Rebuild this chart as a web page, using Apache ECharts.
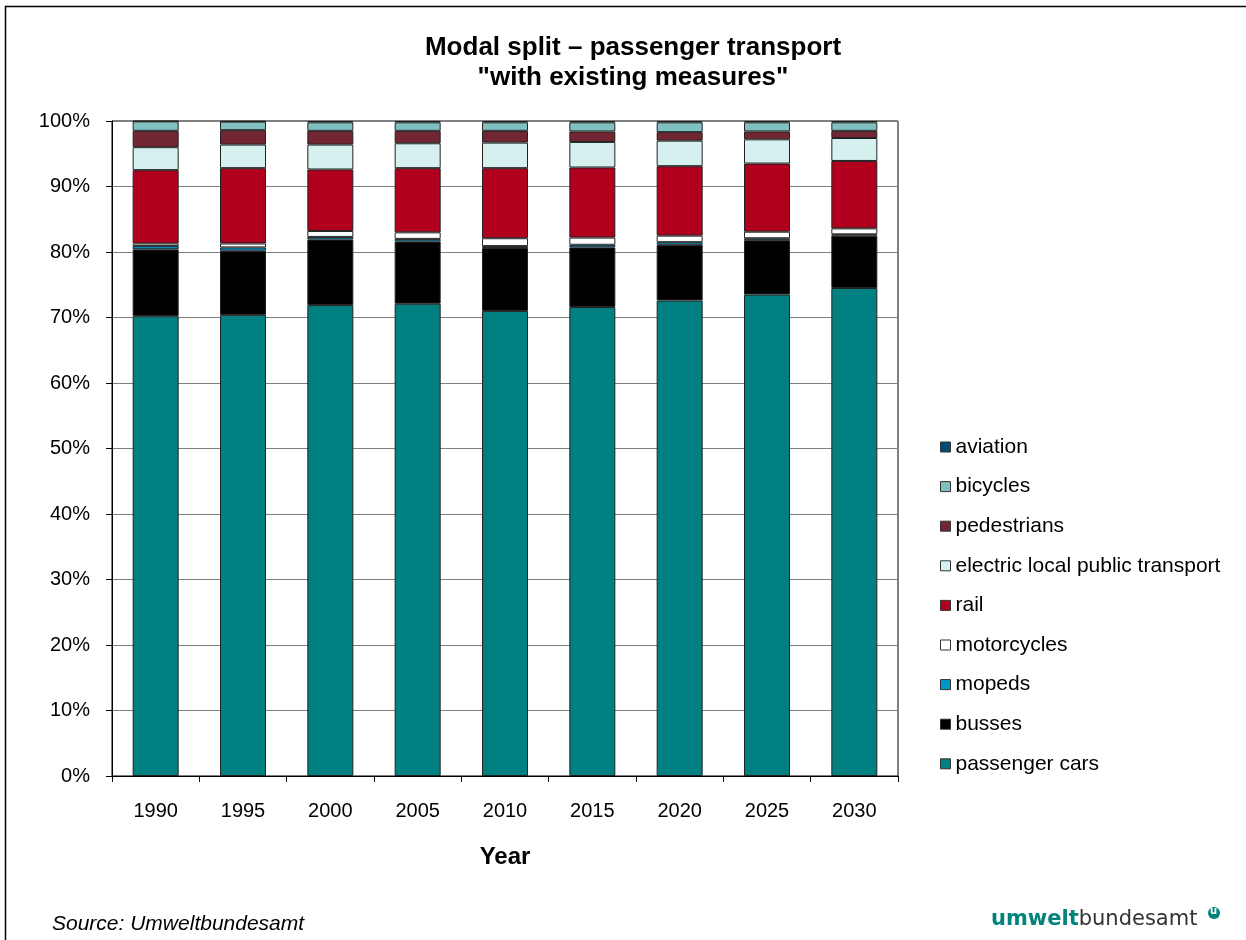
<!DOCTYPE html>
<html>
<head>
<meta charset="utf-8">
<style>
  html, body { margin: 0; padding: 0; background: #fff; }
  #chart { width: 1246px; height: 940px; }
</style>
<script src="https://cdn.jsdelivr.net/npm/echarts@6/dist/echarts.min.js"></script>
</head>
<body>
<div id="chart"></div>
<script>
// Modal split of passenger transport, shares in percent per year
const years = ['1990', '1995', '2000', '2005', '2010', '2015', '2020', '2025', '2030'];
const yTicks = [0, 10, 20, 30, 40, 50, 60, 70, 80, 90, 100];

const passengerCars = [70.2, 70.4, 71.9, 72.1, 71.0, 71.6, 72.6, 73.5, 74.5];
const busses        = [10.2,  9.8, 10.0,  9.5,  9.6,  9.1,  8.5,  8.3,  8.0];
const mopeds        = [ 0.5,  0.5,  0.4,  0.4,  0.3,  0.4,  0.4,  0.3,  0.2];
const motorcycles   = [ 0.4,  0.6,  0.9,  1.0,  1.2,  1.1,  1.0,  1.0,  0.9];
const rail          = [11.2, 11.5,  9.4,  9.8, 10.7, 10.7, 10.6, 10.4, 10.3];
const electricLocal = [ 3.5,  3.6,  3.8,  3.8,  3.9,  3.9,  3.9,  3.7,  3.5];
const pedestrians   = [ 2.5,  2.2,  2.1,  1.9,  1.8,  1.6,  1.3,  1.2,  1.1];
const bicycles      = [1.45,  1.3,  1.3,  1.3,  1.3,  1.4,  1.5,  1.4,  1.3];
const aviation      = [0.05,  0.1,  0.2,  0.2,  0.2,  0.2,  0.2,  0.2,  0.2];

// bottom-to-top stacking order
const seriesDefs = [
  { name: 'passenger cars', data: passengerCars, color: '#008080' },
  { name: 'busses', data: busses, color: '#000000' },
  { name: 'mopeds', data: mopeds, color: '#0099CC' },
  { name: 'motorcycles', data: motorcycles, color: '#FFFFFF' },
  { name: 'rail', data: rail, color: '#B0001E' },
  { name: 'electric local public transport', data: electricLocal, color: '#D6EFEF' },
  { name: 'pedestrians', data: pedestrians, color: '#722634' },
  { name: 'bicycles', data: bicycles, color: '#80C0C0' },
  { name: 'aviation', data: aviation, color: '#004D73' }
];

const FONT = 'Liberation Sans, Arial, sans-serif';

const chart = echarts.init(document.getElementById('chart'), null, { renderer: 'canvas' });

chart.setOption({
  backgroundColor: '#ffffff',
  animation: false,
  title: {
    text: 'Modal split \u2013 passenger transport\n"with existing measures"',
    left: 628,
    textAlign: 'center',
    top: 28,
    textStyle: { fontFamily: FONT, fontSize: 26, fontWeight: 'bold', color: '#000', lineHeight: 30 }
  },
  grid: { left: 112, right: 348, top: 121, bottom: 164, show: true, borderColor: '#000', borderWidth: 1 },
  legend: {
    orient: 'vertical',
    left: 935,
    top: 431,
    itemWidth: 10,
    itemHeight: 10,
    itemGap: 17.6,
    icon: 'rect',
    data: seriesDefs.map(s => s.name).reverse(),
    itemStyle: { borderColor: '#333', borderWidth: 1 },
    textStyle: { fontFamily: FONT, fontSize: 21, color: '#000', lineHeight: 22 }
  },
  xAxis: {
    type: 'category',
    data: years,
    name: 'Year',
    nameLocation: 'middle',
    nameGap: 69,
    nameTextStyle: { fontFamily: FONT, fontSize: 24, fontWeight: 'bold', color: '#000' },
    axisLine: { lineStyle: { color: '#000', width: 1 } },
    axisTick: { show: true, length: 6, lineStyle: { color: '#000' } },
    axisLabel: { fontFamily: FONT, fontSize: 20, color: '#000', margin: 25 }
  },
  yAxis: {
    type: 'value',
    min: yTicks[0],
    max: yTicks[yTicks.length - 1],
    interval: yTicks[1] - yTicks[0],
    axisLine: { show: true, lineStyle: { color: '#000', width: 1 } },
    axisTick: { show: true, length: 6, lineStyle: { color: '#000' } },
    axisLabel: { fontFamily: FONT, fontSize: 20, color: '#000', margin: 22, formatter: v => v + '%' },
    splitLine: { show: true, lineStyle: { color: '#808080', width: 1 } }
  },
  series: seriesDefs.map(s => ({
    name: s.name,
    type: 'bar',
    stack: 'share',
    data: s.data,
    barWidth: 46,
    itemStyle: { color: s.color, borderColor: '#222', borderWidth: 1 },
    emphasis: { disabled: true }
  })),
  graphic: [
    {
      type: 'rect',
      shape: { x: 5.5, y: 6.5, width: 1300, height: 1000 },
      style: { fill: 'none', stroke: '#000', lineWidth: 1.5 },
      silent: true
    },
    {
      type: 'text',
      left: 52,
      top: 914,
      style: { text: 'Source: Umweltbundesamt', font: 'italic 21px Liberation Sans, Arial, sans-serif', fill: '#000' }
    },
    {
      type: 'text',
      left: 991,
      top: 909,
      style: {
        text: '{a|umwelt}{b|bundesamt}',
        rich: {
          a: { fontFamily: 'DejaVu Sans, sans-serif', fontSize: 21, fontWeight: 'bold', fill: '#00837A', color: '#00837A' },
          b: { fontFamily: 'DejaVu Sans, sans-serif', fontSize: 21, fontWeight: 'normal', fill: '#333', color: '#333' }
        }
      }
    },
    {
      type: 'circle',
      shape: { cx: 1214, cy: 913, r: 6 },
      style: { fill: '#00837A' }
    },
    {
      type: 'text',
      left: 1210,
      top: 906,
      style: { text: 'u', font: 'bold 10px DejaVu Sans, sans-serif', fill: '#fff' }
    }
  ]
});
</script>
</body>
</html>
